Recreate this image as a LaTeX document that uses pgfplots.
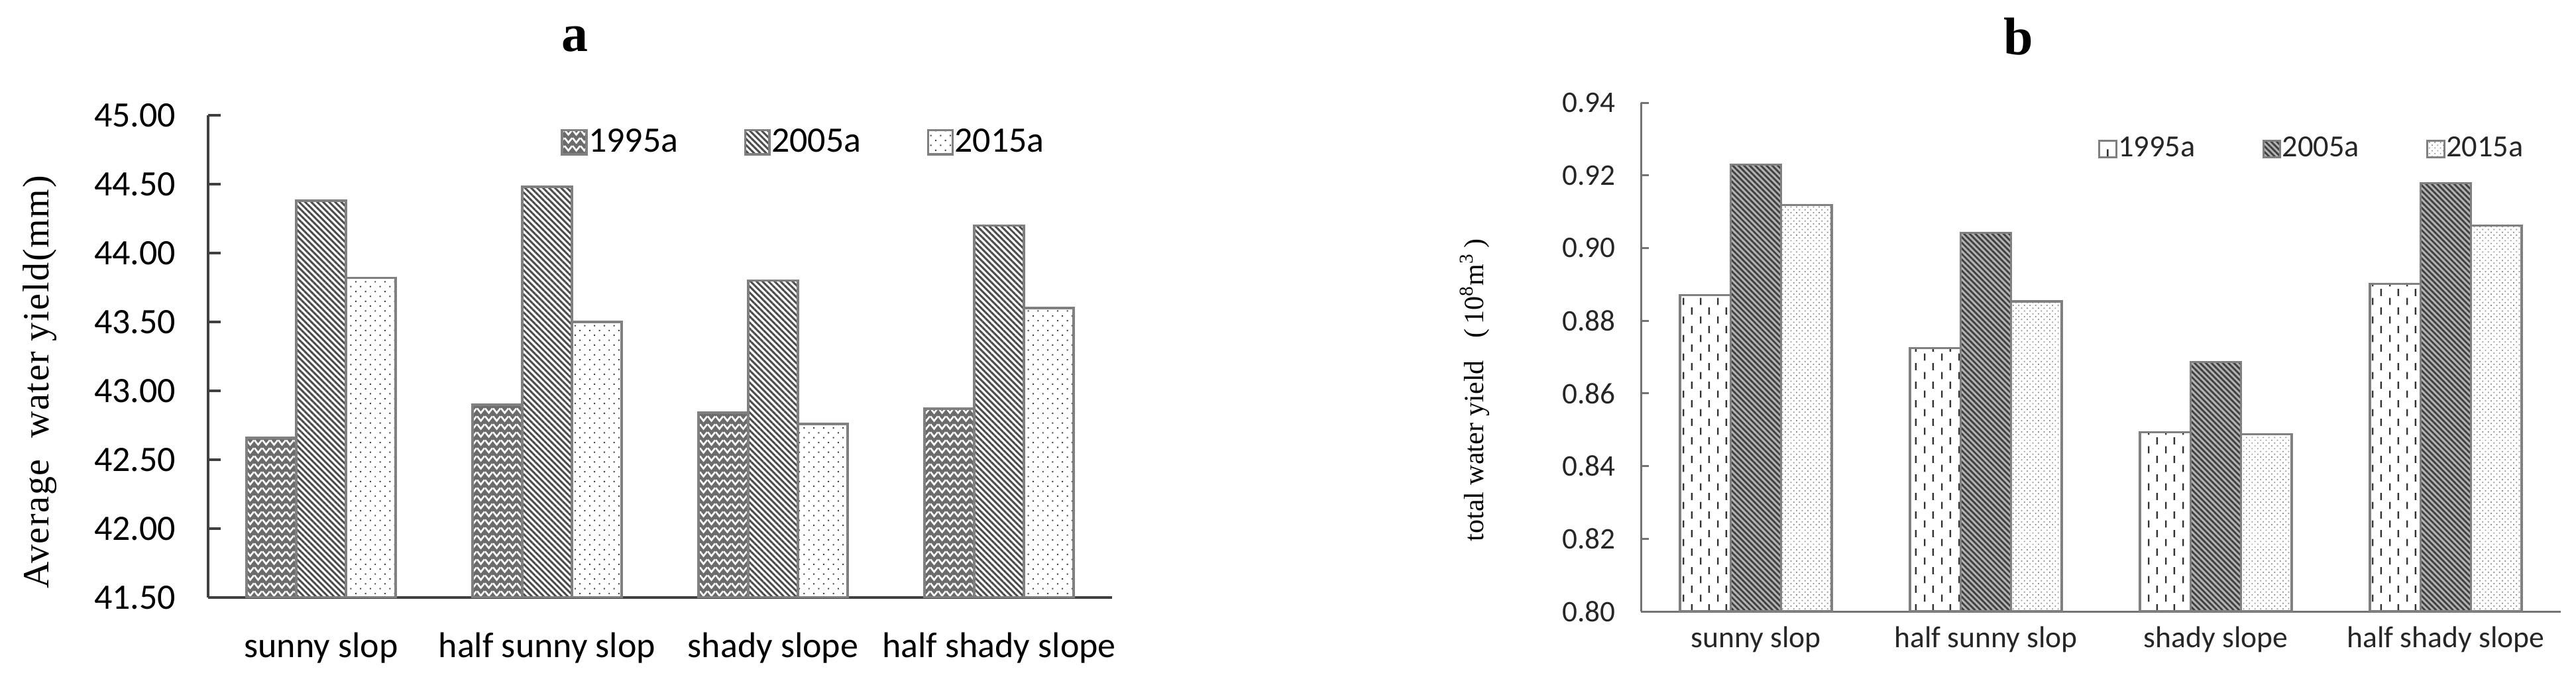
\documentclass[border=0pt]{standalone}
\usepackage{fontspec}
\setmainfont{Carlito}
\newfontfamily\timesf{Liberation Serif}
\newfontfamily\timesls[LetterSpace=3]{Liberation Serif}
\usepackage{pgfplots}
\pgfplotsset{compat=1.18}
\usetikzlibrary{patterns,patterns.meta}

\pgfdeclarepatternformonly{chevron}{\pgfqpoint{0pt}{0pt}}{\pgfqpoint{3pt}{3pt}}{\pgfqpoint{3pt}{3pt}}{%
  \pgfsetlinewidth{0.7pt}%
  \pgfpathmoveto{\pgfqpoint{0pt}{2.6pt}}%
  \pgfpathlineto{\pgfqpoint{1.5pt}{0.7pt}}%
  \pgfpathlineto{\pgfqpoint{3pt}{2.6pt}}%
  \pgfusepath{stroke}}
\pgfdeclarepatternformonly{vdash}{\pgfqpoint{0pt}{0pt}}{\pgfqpoint{6.4pt}{7pt}}{\pgfqpoint{6.4pt}{7pt}}{%
  \pgfpathrectangle{\pgfqpoint{1.3pt}{0.4pt}}{\pgfqpoint{0.6pt}{2.8pt}}%
  \pgfpathrectangle{\pgfqpoint{4.5pt}{3.9pt}}{\pgfqpoint{0.6pt}{2.8pt}}%
  \pgfusepath{fill}}

\pgfplotsset{
  boxleg/.style={legend image code/.code={\draw[##1] (0pt,-4.6pt) rectangle (9.2pt,4.6pt);}},
  boxlegb/.style={legend image code/.code={\draw[##1] (0pt,-3.2pt) rectangle (6.4pt,3.2pt);}},
}

\begin{document}
\begin{tikzpicture}
\useasboundingbox (0,0) rectangle (971.75pt,255.25pt);

% ---------- panel a ----------
\begin{axis}[
  at={(78.5pt,29.75pt)}, anchor=south west,
  width=341pt, height=182pt, scale only axis,
  xmin=-0.5, xmax=3.5, ymin=41.5, ymax=45,
  axis lines=left, axis line style={-, draw=black!75, line width=0.8pt},
  ybar=0pt, bar width=0.22,
  xtick={0,1,2,3},
  xticklabels={sunny slop, half sunny slop, shady slope, half shady slope},
  x tick style={draw=none},
  xticklabel style={anchor=center, inner sep=0pt, yshift=-19pt, font=\fontsize{13.5}{16}\selectfont},
  ytick={41.5,42,42.5,43,43.5,44,44.5,45},
  y tick style={draw=black!75, line width=0.8pt},
  tick align=inside, major tick length=4.75pt,
  yticklabel style={anchor=east, inner sep=0pt, xshift=-12pt, font=\fontsize{13.5}{16}\selectfont,
    /pgf/number format/.cd, fixed, fixed zerofill, precision=2, assume math mode=true},
  legend style={at={(0.381,0.944)}, anchor=west, draw=none, fill=none,
    legend columns=3, font=\fontsize{13.5}{16}\selectfont,
    nodes={inner sep=0.3pt},
    /tikz/every odd column/.append style={column sep=0pt},
    /tikz/every even column/.append style={column sep=24.5pt}},
  legend cell align=left,
]
\addplot[boxleg, draw=black!50, line width=0.9pt, fill=black!58,
  postaction={pattern=chevron, pattern color=white}]
  coordinates {(0,42.66) (1,42.90) (2,42.84) (3,42.87)};
\addplot[boxleg, draw=black!50, line width=0.9pt, fill=white,
  postaction={pattern={Lines[angle=-45,distance=1.6pt,line width=0.75pt]}, pattern color=black!70}]
  coordinates {(0,44.38) (1,44.48) (2,43.80) (3,44.20)};
\addplot[boxleg, draw=black!50, line width=0.9pt, fill=white,
  postaction={pattern={Dots[distance=2.6pt,radius=0.35pt,angle=45]}, pattern color=black!75}]
  coordinates {(0,43.82) (1,43.50) (2,42.76) (3,43.60)};
\legend{1995a,2005a,2015a}
\end{axis}

% ---------- panel b ----------
\begin{axis}[
  at={(619pt,24.5pt)}, anchor=south west,
  width=347pt, height=192pt, scale only axis,
  xmin=-0.5, xmax=3.5, ymin=0.80, ymax=0.94,
  axis lines=left, axis line style={-, draw=black!55, line width=0.75pt},
  ybar=0pt, bar width=0.22,
  xtick={0,1,2,3},
  xticklabels={sunny slop, half sunny slop, shady slope, half shady slope},
  x tick style={draw=none},
  xticklabel style={anchor=center, inner sep=0pt, yshift=-10.5pt, font=\fontsize{11.4}{14}\selectfont, text=black!85},
  ytick={0.80,0.82,0.84,0.86,0.88,0.90,0.92,0.94},
  y tick style={draw=black!55, line width=0.75pt},
  tick align=inside, major tick length=3pt,
  yticklabel style={anchor=east, inner sep=0pt, xshift=-9.5pt, font=\fontsize{11.3}{14}\selectfont, text=black!85,
    /pgf/number format/.cd, fixed, fixed zerofill, precision=2, assume math mode=true},
  legend style={at={(0.488,0.909)}, anchor=west, draw=none, fill=none,
    legend columns=3, font=\fontsize{11.6}{14}\selectfont, text=black!85,
    nodes={inner sep=0.3pt},
    /tikz/every odd column/.append style={column sep=0pt},
    /tikz/every even column/.append style={column sep=25pt}},
  legend cell align=left,
]
\addplot[boxlegb, draw=black!50, line width=0.8pt, fill=white,
  postaction={pattern=vdash, pattern color=black!80}]
  coordinates {(0,0.887) (1,0.8725) (2,0.8493) (3,0.8902)};
\addplot[boxlegb, draw=black!50, line width=0.8pt, fill=black!30,
  postaction={pattern={Lines[angle=-45,distance=1.5pt,line width=0.7pt]}, pattern color=black!75}]
  coordinates {(0,0.9229) (1,0.9042) (2,0.8686) (3,0.9179)};
\addplot[boxlegb, draw=black!50, line width=0.8pt, fill=white,
  postaction={pattern={Dots[distance=1.5pt,radius=0.3pt,angle=45]}, pattern color=black!45}]
  coordinates {(0,0.9118) (1,0.8853) (2,0.8487) (3,0.9062)};
\legend{1995a,2005a,2015a}
\end{axis}

% ---------- titles and axis labels ----------
\node[font=\timesf\bfseries\fontsize{20}{24}\selectfont] at (216.75pt,240.5pt) {a};
\node[font=\timesf\bfseries\fontsize{20}{24}\selectfont] at (761.5pt,241.5pt) {b};
\node[rotate=90, font=\timesls\fontsize{14}{16}\selectfont] at (15pt,111pt) {Average\ \ water yield(mm)};
\node[rotate=90, font=\timesf\fontsize{10.5}{12}\selectfont] at (556.25pt,108pt) {total water yield\hspace{0.8em}(\,10\textsuperscript{8}m\textsuperscript{3}\,)};
\end{tikzpicture}
\end{document}
